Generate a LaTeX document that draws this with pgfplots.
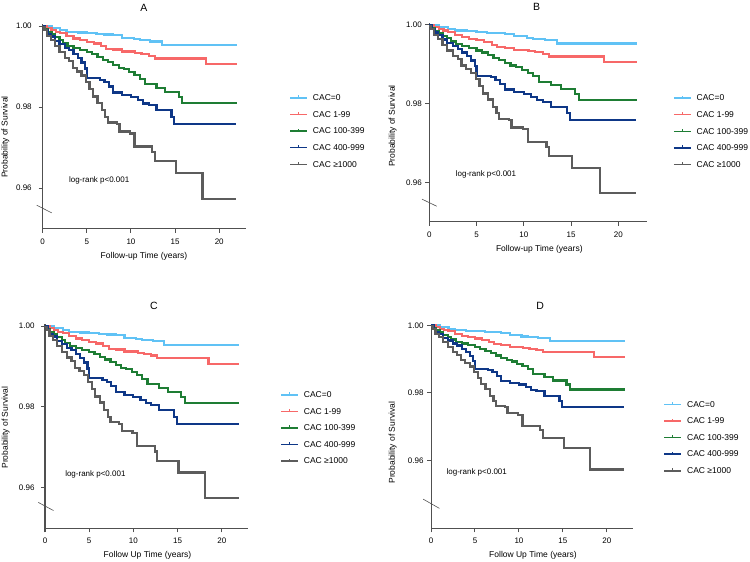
\documentclass[border=0pt]{standalone}
\usepackage{fontspec}
\setmainfont{Liberation Sans}
\usepackage{pgfplots}
\usepackage{pgfplotstable}
\pgfplotsset{compat=1.18}

\definecolor{cyanc}{RGB}{96,194,245}
\definecolor{redc}{RGB}{247,104,104}
\definecolor{greenc}{RGB}{30,125,52}
\definecolor{bluec}{RGB}{14,55,135}
\definecolor{grayc}{RGB}{92,92,92}
\definecolor{axiscol}{RGB}{80,80,80}

% Kaplan-Meier curves (the four panels show the same curves)
\pgfplotstableread{
x y
0 1.0000
1.0 0.9995
2.0 0.9990
2.7 0.9986
4.0 0.9984
5.0 0.9982
6.1 0.9980
7.0 0.9979
8.0 0.9977
9.0 0.9971
10.3 0.9967
11.0 0.9965
12.2 0.9962
13.5 0.9953
22.0 0.9953
}\tzero
\pgfplotstableread{
x y
0 1.0000
0.5 0.9995
1.0 0.9990
1.5 0.9986
2.0 0.9982
2.7 0.9975
3.5 0.9969
4.2 0.9965
5.0 0.9961
5.8 0.9957
6.6 0.9950
7.2 0.9944
8.0 0.9942
9.0 0.9937
10.5 0.9934
11.2 0.9931
12.0 0.9927
12.7 0.9920
18.5 0.9907
22.0 0.9907
}\tone
\pgfplotstableread{
x y
0 1.0000
0.3 0.9993
0.6 0.9985
1.0 0.9979
1.4 0.9972
1.9 0.9966
2.3 0.9958
2.8 0.9951
3.5 0.9946
4.2 0.9941
5.0 0.9935
5.6 0.9930
6.2 0.9923
6.8 0.9917
7.4 0.9911
8.0 0.9903
8.6 0.9897
9.2 0.9893
9.8 0.9886
10.4 0.9879
11.0 0.9870
11.6 0.9856
12.9 0.9847
13.9 0.9837
15.4 0.9825
15.8 0.9810
22.0 0.9810
}\ttwo
\pgfplotstableread{
x y
0 1.0000
0.3 0.9990
0.6 0.9981
0.9 0.9974
1.4 0.9963
1.9 0.9955
2.5 0.9946
3.0 0.9940
3.5 0.9930
4.0 0.9921
4.4 0.9910
4.8 0.9895
5.0 0.9871
6.5 0.9867
7.0 0.9861
7.5 0.9851
8.0 0.9836
9.0 0.9829
10.0 0.9825
10.8 0.9817
11.4 0.9809
12.0 0.9805
12.9 0.9792
14.6 0.9776
14.9 0.9758
21.9 0.9758
}\tthree
\pgfplotstableread{
x y
0 0.9998
0.2 0.9990
0.5 0.9975
0.9 0.9965
1.4 0.9950
1.9 0.9935
2.5 0.9922
3.0 0.9913
3.4 0.9897
3.9 0.9888
4.4 0.9878
4.9 0.9862
5.3 0.9845
5.7 0.9826
6.2 0.9811
6.7 0.9792
7.1 0.9776
7.4 0.9762
8.4 0.9758
8.7 0.9740
9.9 0.9735
10.4 0.9703
12.4 0.9690
12.7 0.9667
15.1 0.9638
18.1 0.9574
21.9 0.9574
}\tfour

\pgfplotsset{
  kmaxis/.style={
    scale only axis, anchor=south west,
    axis lines*=left,
    axis line style={axiscol, line width=1pt},
    xmin=0, xmax=23, ymax=1.0005,
    xtick={0,5,10,15,20}, ytick={0.96,0.98,1.00},
    tick align=outside, major tick length=4pt,
    tick style={axiscol, line width=1pt},
    y tick label style={/pgf/number format/.cd, fixed, fixed zerofill, precision=2, /tikz/.cd},
    /pgf/number format/assume math mode=true,
    tick label style={font=\fontsize{8}{10}\selectfont},
    x tick label style={yshift=-2.5pt},
    label style={font=\fontsize{8.5}{10}\selectfont, anchor=center},
    every axis title shift=0pt,
    title style={font=\fontsize{10.5}{12}\selectfont, anchor=center},
    ylabel={Probability of Survival},
    clip=false,
    legend cell align=left,
    legend style={draw=none, fill=none, anchor=west,
      font=\fontsize{8.5}{10}\selectfont, row sep=6.1pt,
      /tikz/every odd column/.append style={column sep=4pt},
      nodes={inner sep=1pt, text height=7pt, text depth=1.5pt}},
    legend image code/.code={
      \draw[#1, line width=1.5pt] (0pt,0pt) -- (17pt,0pt);
      \draw[#1, line width=1pt] (8.5pt,-0.5pt) -- (8.5pt,2.5pt);},
  },
  km/.style={const plot, line width=2.2pt},
}

\newcommand{\kmcurves}{%
  \addplot[km, cyanc] table {\tzero}; \addlegendentry{CAC=0}
  \addplot[km, redc] table {\tone}; \addlegendentry{CAC 1-99}
  \addplot[km, greenc] table {\ttwo}; \addlegendentry{CAC 100-399}
  \addplot[km, bluec] table {\tthree}; \addlegendentry{CAC 400-999}
  \addplot[km, grayc] table {\tfour}; \addlegendentry{CAC ≥1000}
}

\begin{document}
\begin{tikzpicture}
\useasboundingbox (0,0) rectangle (750pt,562pt);

% A
\begin{axis}[kmaxis, at={(42.7pt,333.3pt)}, width=203pt, height=204.7pt,
  ymin=0.95, title={A}, xlabel={Follow-up Time (years)},
  y tick label style={xshift=-3.5pt},
  title style={at={(axis description cs:0.499,1.078)}},
  xlabel style={at={(axis description cs:0.499,-0.137)}},
  ylabel style={at={(axis description cs:-0.183,0.448)}},
  legend style={at={(axis description cs:1.20,0.477)}}]
  \kmcurves
  \node[font=\fontsize{8}{9}\selectfont] at (axis cs:6.4,0.9619) {log-rank p<0.001};
  \draw[axiscol, line width=0.6pt] (axis cs:-0.68,0.9558) -- (axis cs:1.02,0.9539);
\end{axis}

% B
\begin{axis}[kmaxis, at={(429.3pt,340pt)}, width=217.4pt, height=199pt,
  ymin=0.95, title={B}, xlabel={Follow-up Time (years)},
  title style={at={(axis description cs:0.494,1.080)}},
  xlabel style={at={(axis description cs:0.506,-0.136)}},
  ylabel style={at={(axis description cs:-0.168,0.482)}},
  legend style={at={(axis description cs:1.107,0.456)}}]
  \kmcurves
  \node[font=\fontsize{8}{9}\selectfont] at (axis cs:6.0,0.9621) {log-rank p<0.001};
  \draw[axiscol, line width=0.6pt] (axis cs:-0.77,0.9558) -- (axis cs:0.78,0.9540);
\end{axis}

% C
\begin{axis}[kmaxis, at={(45pt,33.7pt)}, width=203.3pt, height=204.3pt,
  ymin=0.95, title={C}, xlabel={Follow Up Time (years)},
  y tick label style={xshift=-3pt},
  title style={at={(axis description cs:0.536,1.088)}},
  xlabel style={at={(axis description cs:0.504,-0.132)}},
  ylabel style={at={(axis description cs:-0.194,0.492)}},
  legend style={at={(axis description cs:1.142,0.491)}}]
  \kmcurves
  \node[font=\fontsize{8}{9}\selectfont] at (axis cs:5.7,0.9634) {log-rank p<0.001};
  \draw[axiscol, line width=0.6pt] (axis cs:-0.76,0.9564) -- (axis cs:0.95,0.9544);
\end{axis}

% D
\begin{axis}[kmaxis, at={(431pt,33.7pt)}, width=202.3pt, height=204.7pt,
  ymin=0.94, title={D}, xlabel={Follow Up Time (years)},
  title style={at={(axis description cs:0.539,1.086)}},
  xlabel style={at={(axis description cs:0.504,-0.132)}},
  ylabel style={at={(axis description cs:-0.189,0.418)}},
  legend style={at={(axis description cs:1.134,0.443)}}]
  \kmcurves
  \node[font=\fontsize{8}{9}\selectfont] at (axis cs:5.2,0.9564) {log-rank p<0.001};
  \draw[axiscol, line width=0.6pt] (axis cs:-0.88,0.9486) -- (axis cs:0.95,0.9459);
\end{axis}
\end{tikzpicture}
\end{document}
